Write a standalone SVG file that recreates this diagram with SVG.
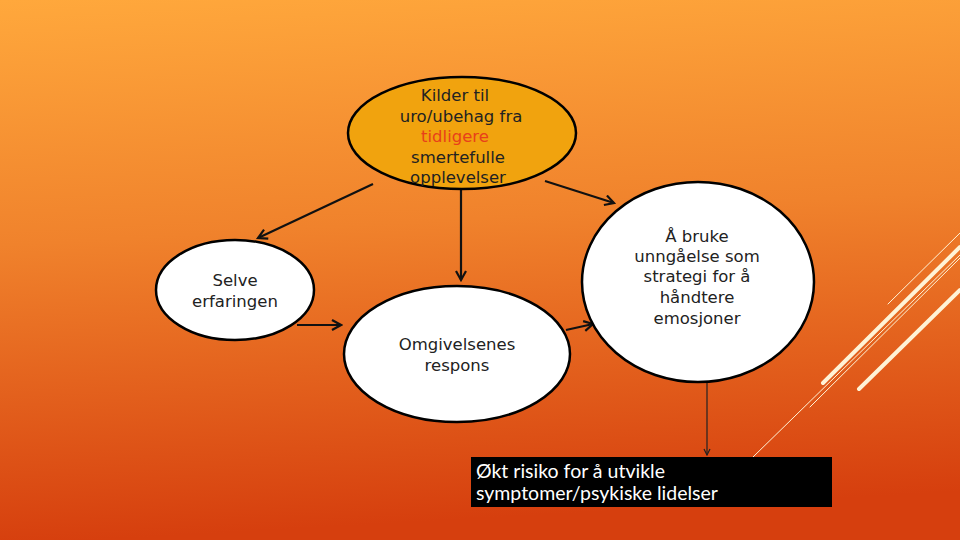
<svg xmlns="http://www.w3.org/2000/svg" width="960" height="540" viewBox="0 0 960 540">
<defs>
<linearGradient id="bg" x1="0" y1="0" x2="0.1" y2="1">
<stop offset="0" stop-color="#FFA83C"/>
<stop offset="0.45" stop-color="#F0822C"/>
<stop offset="1" stop-color="#D63F0E"/>
</linearGradient>
<marker id="ah" markerWidth="12" markerHeight="12" refX="10" refY="6" orient="auto" markerUnits="userSpaceOnUse">
<path d="M1,1 L10,6 L1,11" fill="none" stroke="#111" stroke-width="2.2"/>
</marker>
<marker id="ahs" markerWidth="8" markerHeight="8" refX="7" refY="4" orient="auto" markerUnits="userSpaceOnUse">
<path d="M1,1 L7,4 L1,7" fill="none" stroke="#222" stroke-width="1.2"/>
</marker>
</defs>
<style>
.node{stroke:#000;stroke-width:2.5}
.t{font-family:"DejaVu Sans","Liberation Sans",sans-serif;font-size:16.5px;fill:#222;text-anchor:middle}
.c{stroke:#111;stroke-width:2.2;fill:none}
.deco{stroke:#FFF3D6;fill:none;stroke-linecap:round}
.bt{font-family:"Lato","Liberation Sans",sans-serif;font-size:19.5px;fill:#fff}
</style>
<rect width="960" height="540" fill="url(#bg)"/>
<g id="decor">
<line class="deco" x1="823" y1="383" x2="960" y2="247" stroke-width="4"/>
<line class="deco" x1="859" y1="389" x2="960" y2="290" stroke-width="4"/>
<line class="deco" x1="888" y1="304" x2="960" y2="233" stroke-width="1" stroke="#FFE08A"/>
<line class="deco" x1="810" y1="407" x2="960" y2="258" stroke-width="1" stroke="#FFE08A"/>
<line class="deco" x1="753" y1="457" x2="960" y2="255" stroke-width="1" stroke="#FFE08A"/>
</g>
<g id="connectors">
<line class="c" x1="373" y1="184" x2="258" y2="238" marker-end="url(#ah)"/>
<line class="c" x1="461" y1="189" x2="461" y2="280" marker-end="url(#ah)"/>
<line class="c" x1="545" y1="181" x2="614" y2="203" marker-end="url(#ah)"/>
<line class="c" x1="297" y1="325" x2="341" y2="325" marker-end="url(#ah)"/>
<line class="c" x1="566" y1="330" x2="593" y2="324" marker-end="url(#ah)"/>
<line x1="707" y1="383" x2="707" y2="455" stroke="#222" stroke-width="1.2" marker-end="url(#ahs)"/>
</g>
<g id="kilder">
<ellipse class="node" cx="462" cy="133" rx="114" ry="56" fill="#F1A30E"/>
<text class="t" x="455" y="101">Kilder til</text>
<text class="t" x="461" y="122">uro/ubehag fra</text>
<text class="t" x="455" y="142" style="fill:#E8401A">tidligere</text>
<text class="t" x="458" y="163">smertefulle</text>
<text class="t" x="458" y="183">opplevelser</text>
</g>
<g id="selve">
<ellipse class="node" cx="235" cy="290" rx="79" ry="50" fill="#fff"/>
<text class="t" x="235" y="286">Selve</text>
<text class="t" x="235" y="307">erfaringen</text>
</g>
<g id="omgivelsenes">
<ellipse class="node" cx="457" cy="354" rx="113" ry="68" fill="#fff"/>
<text class="t" x="457" y="350">Omgivelsenes</text>
<text class="t" x="457" y="371">respons</text>
</g>
<g id="unngaelse">
<ellipse class="node" cx="698" cy="282" rx="116" ry="100" fill="#fff"/>
<text class="t" x="697" y="242">Å bruke</text>
<text class="t" x="697" y="262">unngåelse som</text>
<text class="t" x="697" y="282">strategi for å</text>
<text class="t" x="697" y="303">håndtere</text>
<text class="t" x="697" y="324">emosjoner</text>
</g>
<g id="risiko">
<rect x="471" y="457" width="361" height="50" fill="#000"/>
<text class="bt" x="476" y="478">Økt risiko for å utvikle</text>
<text class="bt" x="476" y="500">symptomer/psykiske lidelser</text>
</g>
</svg>
